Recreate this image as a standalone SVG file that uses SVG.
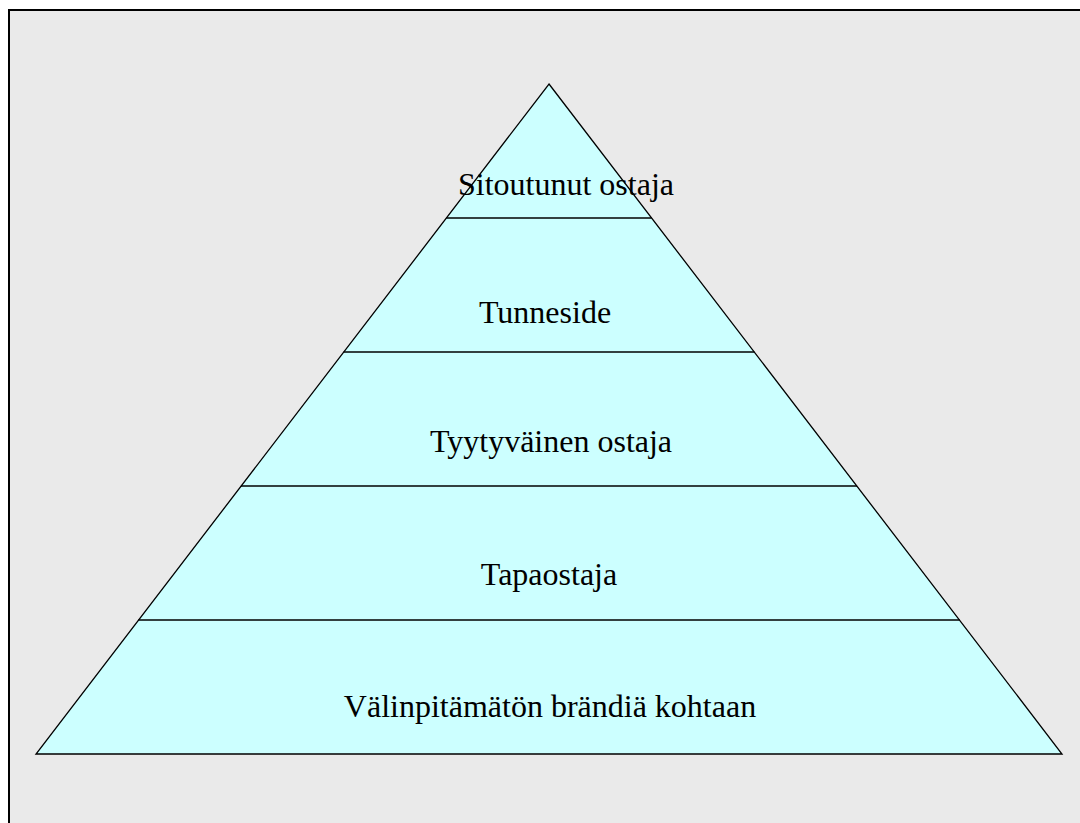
<svg xmlns="http://www.w3.org/2000/svg" width="1080" height="823" viewBox="0 0 1080 823">
  <style>
    .tier { fill: #ccffff; stroke: none; }
    .edge { stroke: #000; stroke-width: 1.3; fill: none; }
    .label { font-family: "Liberation Serif", "Times New Roman", serif; font-size: 32px; fill: #000; text-anchor: middle; }
  </style>
  <!-- page background and frame -->
  <rect x="0" y="0" width="1080" height="823" fill="#ffffff"/>
  <rect x="9" y="10" width="1080" height="830" fill="#eaeaea" stroke="#000" stroke-width="2"/>

  <!-- pyramid body -->
  <polygon class="tier" points="549,84 1062,754 36,754"/>

  <g id="connectors">
    <polygon class="edge" points="549,84 1062,754 36,754"/>
    <line class="edge" x1="446.4" y1="218" x2="651.6" y2="218"/>
    <line class="edge" x1="343.6" y1="352" x2="754.4" y2="352"/>
    <line class="edge" x1="240.9" y1="486" x2="857.1" y2="486"/>
    <line class="edge" x1="138.3" y1="620" x2="959.7" y2="620"/>
  </g>

  <g id="tier-1"><text class="label" x="566" y="195">Sitoutunut ostaja</text></g>
  <g id="tier-2"><text class="label" x="545" y="323">Tunneside</text></g>
  <g id="tier-3"><text class="label" x="551" y="452">Tyytyväinen ostaja</text></g>
  <g id="tier-4"><text class="label" x="549" y="585">Tapaostaja</text></g>
  <g id="tier-5"><text class="label" x="550" y="717">Välinpitämätön brändiä kohtaan</text></g>
</svg>
